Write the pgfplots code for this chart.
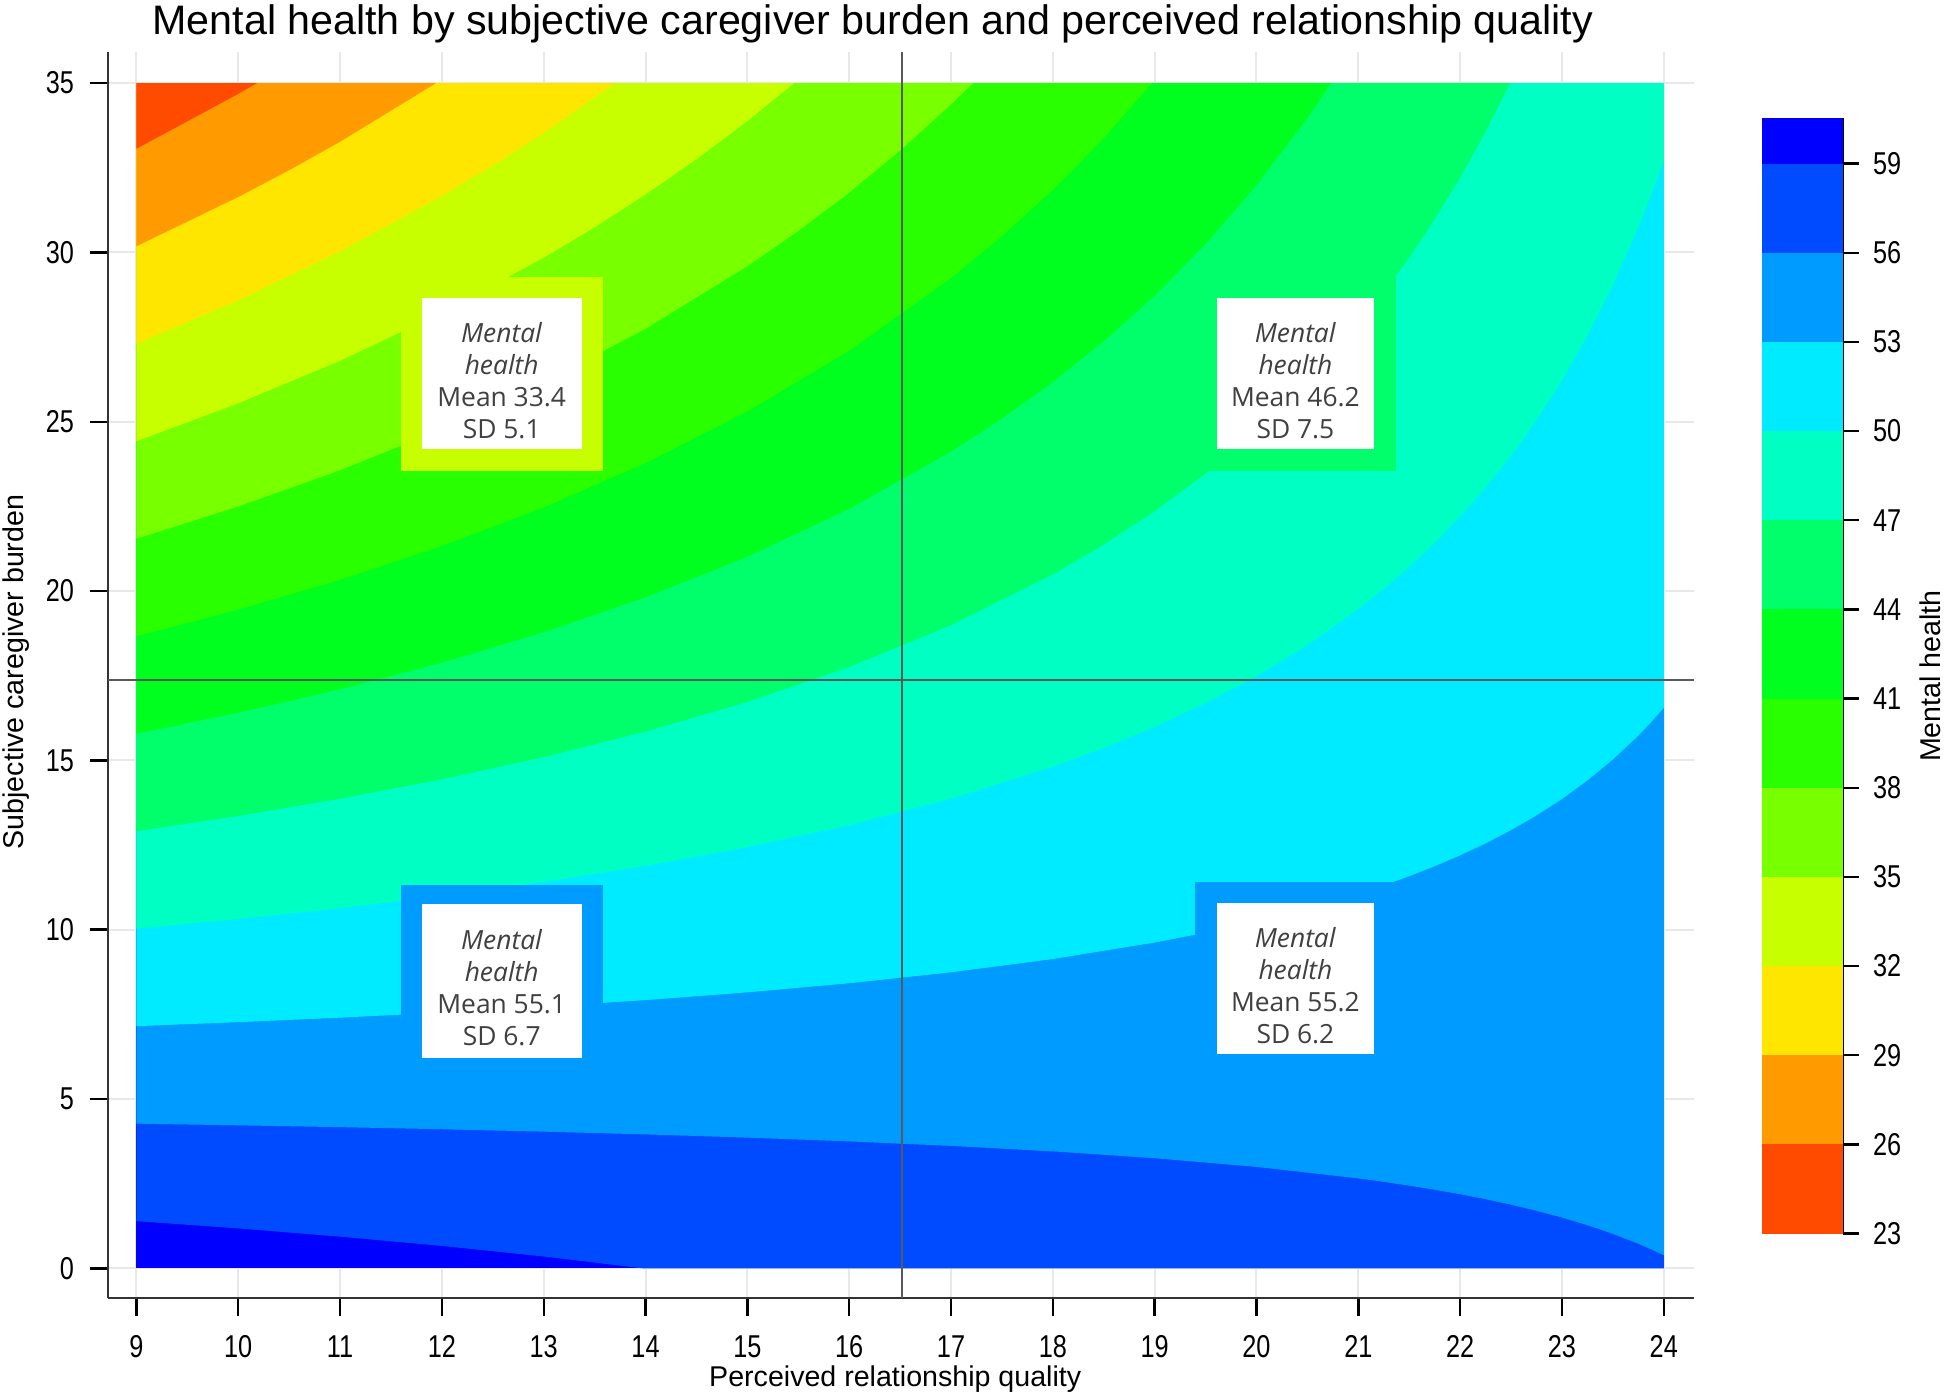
\documentclass[border=0pt]{standalone}
\usepackage{pgfplots}
\pgfplotsset{compat=1.18}
\usepackage{fontspec}
\setmainfont{Liberation Sans}
\newfontfamily\tickfont[FakeStretch=0.8]{Liberation Sans}
\newfontfamily\boxfont{Open Sans}
\definecolor{c23}{HTML}{FF4B00}
\definecolor{c26}{HTML}{FF9B00}
\definecolor{c29}{HTML}{FFE600}
\definecolor{c32}{HTML}{C8FF00}
\definecolor{c35}{HTML}{78FF00}
\definecolor{c38}{HTML}{2AFF00}
\definecolor{c41}{HTML}{00FF1E}
\definecolor{c44}{HTML}{00FF6A}
\definecolor{c47}{HTML}{00FFC3}
\definecolor{c50}{HTML}{00EBFF}
\definecolor{c53}{HTML}{009BFF}
\definecolor{c56}{HTML}{004BFF}
\definecolor{c59}{HTML}{0000FF}
\begin{document}
\begin{tikzpicture}
\begin{axis}[
  at={(27pt,24pt)}, anchor=south west,
  scale only axis, width=396.5pt, height=311.5pt,
  xmin=8.721, xmax=24.297, ymin=-0.877, ymax=35.918,
  axis x line=bottom, axis y line=left,
  axis line style={-, black!80, line width=0.6pt},
  xtick={9,...,24}, ytick={0,5,...,35},
  tick align=outside, major tick length=4.5pt,
  tick style={black, line width=0.6pt},
  grid=major, major grid style={black!9, line width=0.5pt},
  /pgf/number format/assume math mode=true,
  tick label style={font=\tickfont\fontsize{7.9}{9}\selectfont},
  xticklabel style={yshift=-1.3pt},
  yticklabel style={xshift=-0.5pt},
]
% base: 59+
\addplot[fill=c59, draw=none] coordinates {(9,0)(24,0)(24,35)(9,35)};
% above contour 59 -> 56-59
\addplot[fill=c56, draw=none] coordinates {(9,1.393)(10,1.178)(11,0.935)(12,0.661)(13,0.349)(13.973,0)(24,0)(24,35)(9,35)};
% above contour 56 -> 53-56
\addplot[fill=c53, draw=none] coordinates {(9,4.272)(10,4.223)(11,4.169)(12,4.107)(13,4.036)(14,3.955)(15,3.860)(16,3.748)(17,3.615)(18,3.453)(19,3.252)(20,2.995)(21,2.656)(21.25,2.554)(21.5,2.44)(21.75,2.321)(22,2.188)(22.25,2.042)(22.5,1.880)(22.75,1.701)(23,1.500)(23.25,1.274)(23.5,1.018)(23.75,0.725)(23.875,0.563)(24,0.388)(24,35)(9,35)};
% above contour 53 -> 50-53
\addplot[fill=c50, draw=none] coordinates {(9,7.151)(10,7.269)(11,7.402)(12,7.552)(13,7.723)(14,7.920)(15,8.149)(16,8.418)(17,8.741)(18,9.133)(19,9.620)(19.5,9.911)(20,10.242)(20.5,10.621)(21,11.062)(21.25,11.310)(21.5,11.579)(21.75,11.873)(22,12.195)(22.25,12.549)(22.5,12.940)(22.75,13.375)(23,13.861)(23.25,14.407)(23.5,15.027)(23.75,15.73)(23.875,16.128)(24,16.552)(24,35)(9,35)};
% above contour 50 -> 47-50
\addplot[fill=c47, draw=none] coordinates {(9,10.030)(10,10.315)(11,10.635)(12,10.997)(13,11.410)(14,11.885)(15,12.437)(16,13.088)(17,13.866)(18,14.813)(18.5,15.367)(19,15.988)(19.5,16.690)(20,17.488)(20.5,18.405)(21,19.468)(21.25,20.066)(21.5,20.716)(21.75,21.425)(22,22.202)(22.25,23.056)(22.5,24.000)(22.75,25.049)(23,26.222)(23.25,27.541)(23.5,29.036)(23.75,30.74)(23.875,31.693)(24,32.716)(24,35)(9,35)};
% above contour 47 -> 44-47
\addplot[fill=c44, draw=none] coordinates {(9,12.908)(10,13.360)(11,13.868)(12,14.442)(13,15.096)(14,15.850)(15,16.726)(16,17.758)(17,18.992)(18,20.492)(18.5,21.371)(19,22.356)(19.5,23.469)(20,24.734)(20.5,26.188)(21,27.873)(21.25,28.822)(21.5,29.85)(21.75,30.977)(22,32.208)(22.25,33.563)(22.49,35)(9,35)};
% above contour 44 -> 41-44
\addplot[fill=c41, draw=none] coordinates {(9,15.787)(10,16.406)(11,17.101)(12,17.887)(13,18.783)(14,19.815)(15,21.015)(16,22.428)(17,24.118)(17.5,25.092)(18,26.172)(18.5,27.375)(19,28.724)(19.5,30.248)(20,31.981)(20.5,33.97)(20.733,35)(9,35)};
% above contour 41 -> 38-41
\addplot[fill=c38, draw=none] coordinates {(9,18.666)(10,19.452)(11,20.334)(12,21.332)(13,22.470)(14,23.780)(15,25.304)(16,27.098)(17,29.243)(17.5,30.481)(18,31.852)(18.5,33.379)(18.974,35)(9,35)};
% above contour 38 -> 35-38
\addplot[fill=c35, draw=none] coordinates {(9,21.545)(10,22.497)(11,23.567)(12,24.777)(13,26.157)(14,27.745)(15,29.593)(15.5,30.634)(16,31.768)(16.5,33.008)(17,34.369)(17.217,35)(9,35)};
% above contour 35 -> 32-35
\addplot[fill=c32, draw=none] coordinates {(9,24.424)(10,25.543)(11,26.800)(12,28.222)(13,29.844)(13.5,30.743)(14,31.710)(14.5,32.753)(15,33.881)(15.458,35)(9,35)};
% above contour 32 -> 29-32
\addplot[fill=c29, draw=none] coordinates {(9,27.303)(10,28.589)(11,30.033)(12,31.668)(12.5,32.568)(13,33.531)(13.700,35)(9,35)};
% above contour 29 -> 26-29
\addplot[fill=c26, draw=none] coordinates {(9,30.182)(10,31.635)(10.5,32.426)(11,33.267)(11.943,35)(9,35)};
% above contour 26 -> 23-26
\addplot[fill=c23, draw=none] coordinates {(9,33.060)(10,34.680)(10.185,35)(9,35)};
% label boxes: padding
\addplot[fill=c32, draw=none] coordinates {(11.595,23.55)(13.585,23.55)(13.585,29.28)(11.595,29.28)};
\addplot[fill=c44, draw=none] coordinates {(19.40,23.55)(21.37,23.55)(21.37,29.28)(19.40,29.28)};
\addplot[fill=c53, draw=none] coordinates {(11.595,5.60)(13.585,5.60)(13.585,11.33)(11.595,11.33)};
\addplot[fill=c53, draw=none] coordinates {(19.40,5.72)(21.37,5.72)(21.37,11.40)(19.40,11.40)};
% white boxes
\addplot[fill=white, draw=none] coordinates {(11.80,24.18)(13.375,24.18)(13.375,28.65)(11.80,28.65)};
\addplot[fill=white, draw=none] coordinates {(19.61,24.18)(21.155,24.18)(21.155,28.65)(19.61,28.65)};
\addplot[fill=white, draw=none] coordinates {(11.80,6.22)(13.375,6.22)(13.375,10.75)(11.80,10.75)};
\addplot[fill=white, draw=none] coordinates {(19.61,6.33)(21.155,6.33)(21.155,10.80)(19.61,10.80)};
% reference lines
\addplot[draw=black!65, line width=0.45pt] coordinates {(16.52,-0.877)(16.52,35.918)};
\addplot[draw=black!65, line width=0.45pt] coordinates {(8.721,17.38)(24.297,17.38)};
\tikzset{boxtxt/.style={font=\boxfont\fontsize{6.6}{8}\selectfont, text=black!75, align=center}}
\node[boxtxt] at (axis cs:12.5875,26.2) {\textit{Mental}\\\textit{health}\\Mean 33.4\\SD 5.1};
\node[boxtxt] at (axis cs:20.3825,26.2) {\textit{Mental}\\\textit{health}\\Mean 46.2\\SD 7.5};
\node[boxtxt] at (axis cs:12.5875,8.3) {\textit{Mental}\\\textit{health}\\Mean 55.1\\SD 6.7};
\node[boxtxt] at (axis cs:20.3825,8.35) {\textit{Mental}\\\textit{health}\\Mean 55.2\\SD 6.2};
\end{axis}
% colour bar
\begin{axis}[
  at={(440.5pt,40.1pt)}, anchor=south west,
  scale only axis, width=20.25pt, height=278.95pt,
  xmin=0, xmax=1, ymin=23, ymax=60.54,
  axis x line=none, axis y line=right,
  axis line style={-, black, line width=0.6pt},
  ytick={23,26,...,59},
  tick align=outside, major tick length=4pt,
  tick style={black, line width=0.6pt},
  /pgf/number format/assume math mode=true,
  tick label style={font=\tickfont\fontsize{7.9}{9}\selectfont},
]
\addplot[fill=c23, draw=none] coordinates {(0,23)(1,23)(1,26)(0,26)};
\addplot[fill=c26, draw=none] coordinates {(0,26)(1,26)(1,29)(0,29)};
\addplot[fill=c29, draw=none] coordinates {(0,29)(1,29)(1,32)(0,32)};
\addplot[fill=c32, draw=none] coordinates {(0,32)(1,32)(1,35)(0,35)};
\addplot[fill=c35, draw=none] coordinates {(0,35)(1,35)(1,38)(0,38)};
\addplot[fill=c38, draw=none] coordinates {(0,38)(1,38)(1,41)(0,41)};
\addplot[fill=c41, draw=none] coordinates {(0,41)(1,41)(1,44)(0,44)};
\addplot[fill=c44, draw=none] coordinates {(0,44)(1,44)(1,47)(0,47)};
\addplot[fill=c47, draw=none] coordinates {(0,47)(1,47)(1,50)(0,50)};
\addplot[fill=c50, draw=none] coordinates {(0,50)(1,50)(1,53)(0,53)};
\addplot[fill=c53, draw=none] coordinates {(0,53)(1,53)(1,56)(0,56)};
\addplot[fill=c56, draw=none] coordinates {(0,56)(1,56)(1,59)(0,59)};
\addplot[fill=c59, draw=none] coordinates {(0,59)(1,59)(1,60.54)(0,60.54)};
\end{axis}
\node[anchor=base, font=\fontsize{10.3}{12}\selectfont] at (218.2pt,339.75pt) {Mental health by subjective caregiver burden and perceived relationship quality};
\node[anchor=base, font=\fontsize{7.15}{8}\selectfont, inner sep=0pt] at (223.8pt,2.0pt) {Perceived relationship quality};
\node[anchor=base, rotate=90, font=\fontsize{7.15}{8}\selectfont, inner sep=0pt] at (5.75pt,180.5pt) {Subjective caregiver burden};
\node[anchor=base, rotate=90, font=\fontsize{7.15}{8}\selectfont, inner sep=0pt] at (485.2pt,179.5pt) {Mental health};
\pgfresetboundingbox
\path[use as bounding box] (0,0) rectangle (486pt,348.5pt);
\end{tikzpicture}
\end{document}
